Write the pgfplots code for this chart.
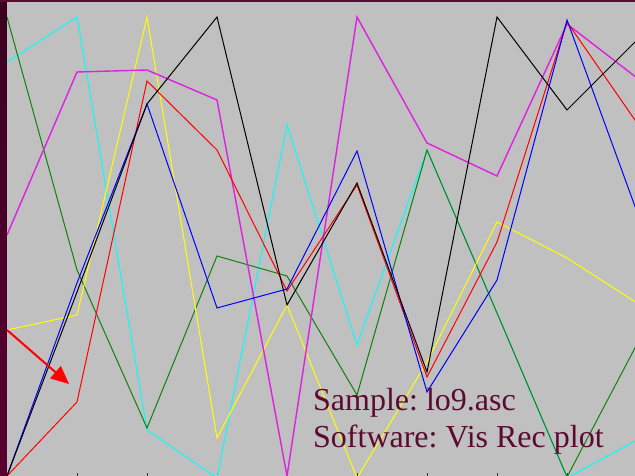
\documentclass[border=0pt]{standalone}
\usepackage{pgfplots}
\pgfplotsset{compat=1.18}
\usepackage{fontspec}
\setmainfont{Liberation Serif}
\frenchspacing
\usetikzlibrary{arrows.meta}
\definecolor{bg}{HTML}{C0C0C0}
\definecolor{maroon}{HTML}{5C0A30}
\definecolor{stripdark}{HTML}{3A0020}
\definecolor{stripmid}{HTML}{5A0030}
\definecolor{mag}{HTML}{E020E0}
\definecolor{grn}{HTML}{108010}
\definecolor{cyn}{HTML}{00FFFF}
\definecolor{yel}{HTML}{FFFF00}
\begin{document}
\begin{tikzpicture}
\shade[top color=stripdark, bottom color=stripmid] (0,0) rectangle (7pt,476pt);
\fill[maroon] (0,474pt) rectangle (635pt,476pt);
\begin{axis}[
  at={(7pt,0pt)}, anchor=south west,
  scale only axis, width=628pt, height=474pt,
  xmin=0, xmax=8.971, ymin=0, ymax=474,
  axis background/.style={fill=bg},
  axis line style={draw=none},
  xtick={1,2,3,4,5,6,7,8}, xticklabels={},
  ytick=\empty,
  tick align=inside, xtick pos=bottom,
  major tick length=3pt,
  tick style={black!80, line width=0.8pt},
  every axis plot/.append style={line width=1pt, mark=none},
]
% cyan
\addplot[cyn] coordinates {(0,414)(1,459)(2,46)(3,-2)(4,351)(5,131)(6,326)(7,163)(8,-2)(9,36)};
% green
\addplot[grn] coordinates {(0,459)(1,206)(2,48)(3,220)(4,200)(5,81)(6,326)(7,163)(8,-1)(9,132)};
% yellow
\addplot[yel] coordinates {(0,146)(1,161)(2,459)(3,38)(4,171)(5,-2)(6,114)(7,254)(8,218)(9,173)};
% magenta
\addplot[mag, line width=1.4pt] coordinates {(0,241)(1,404)(2,406)(3,376)(4,0)(5,459)(6,333)(7,300)(8,452)(9,398)};
% red
\addplot[red] coordinates {(0,0)(1,74)(2,395)(3,326)(4,185)(5,291)(6,99)(7,234)(8,454)(9,353)};
% blue
\addplot[blue] coordinates {(0,0)(1,193)(2,372)(3,168)(4,187)(5,325)(6,84)(7,196)(8,456)(9,264)};
% black
\addplot[black] coordinates {(0,0)(1,184)(2,372)(3,459)(4,171)(5,293)(6,104)(7,459)(8,366)(9,436)};
\draw[red, line width=2pt, -{Triangle[length=18pt,width=16pt]}] (axis cs:0,146) -- (axis cs:0.886,92);
\node[anchor=base west, inner sep=0pt, text=maroon, font=\fontsize{32}{37}\selectfont] at (axis cs:4.371,65) {Sample: lo9.asc};
\node[anchor=base west, inner sep=0pt, text=maroon, font=\fontsize{32}{37}\selectfont] at (axis cs:4.371,28) {Software: Vis Rec plot};
\end{axis}
\pgfresetboundingbox
\path[use as bounding box] (0,0) rectangle (635pt,476pt);
\end{tikzpicture}
\end{document}
